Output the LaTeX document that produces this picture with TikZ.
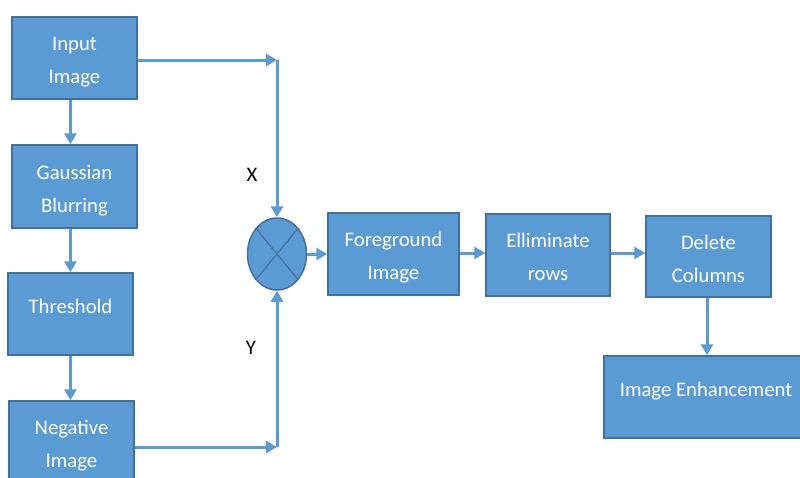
\documentclass[tikz,border=0pt]{standalone}
\usepackage{fontspec}
\setmainfont{Carlito}
\usetikzlibrary{arrows.meta,shapes.geometric}
\definecolor{boxfill}{HTML}{5B9BD5}
\definecolor{boxline}{HTML}{41719C}
\begin{document}
\begin{tikzpicture}[x=1pt,y=-1pt,
  every node/.style={font=\fontsize{20.7}{33}\selectfont},
  blk/.style={draw=boxline, line width=1.5pt, fill=boxfill, text=white,
    inner sep=0pt, align=center, text height=51.5pt, text depth=0pt},
  oneline/.style={text height=13.5pt, text depth=15.5pt},
  arr/.style={draw=boxfill, line width=3pt,
    -{Triangle[length=11pt,width=12pt]}},
  mark lbl/.style={text=black, inner sep=0pt}
]
\fill[white] (0,0) rectangle (800,477);
\useasboundingbox (0,0) rectangle (800,477);

% left column
\node[blk, minimum width=125pt, minimum height=82pt] (in)  at (74.5,58)  {Input\\Image};
\node[blk, minimum width=125pt, minimum height=83pt] (gb)  at (74.5,186.5) {Gaussian\\Blurring};
\node[blk, oneline, minimum width=125pt, minimum height=82pt] (thr) at (70.5,314) {Threshold};
\node[blk, minimum width=125pt, minimum height=82pt] (neg) at (71.5,442) {Negative\\Image};

% multiplier
\node[ellipse, draw=boxline, line width=1.5pt, fill=boxfill, inner sep=0pt,
      minimum width=59pt, minimum height=72pt] (mul) at (277,254) {};
\draw[boxline, line width=1.2pt] (mul.north west) -- (mul.south east)
                                 (mul.north east) -- (mul.south west);

% right chain
\node[blk, minimum width=131pt, minimum height=82pt] (fg) at (393.5,254) {Foreground\\Image};
\node[blk, minimum width=124pt, minimum height=82pt] (el) at (548,255) {Elliminate\\rows};
\node[blk, minimum width=125pt, minimum height=81pt] (dc) at (708.5,256.5) {Delete\\Columns};
\node[blk, oneline, minimum width=204pt, minimum height=82pt] (ie) at (706,397) {Image Enhancement};

% signal labels
\node[mark lbl] (lx) at (252,175) {X};
\node[mark lbl] (ly) at (251,348) {Y};

% corner points of the two inputs
\coordinate (cx) at (277,60);
\coordinate (cy) at (277,447);

% connectors
\draw[arr] (in.south -| thr.north) -- (gb.north -| thr.north);
\draw[arr] (gb.south -| thr.north) -- (thr.north);
\draw[arr] (thr.south) -- (neg.north -| thr.south);

\draw[arr] (in.east |- cx) -- (cx);
\draw[arr] (cx) -- (mul.north);
\draw[arr] (neg.east |- cy) -- (cy);
\draw[arr] (cy) -- (mul.south);

\draw[arr] (mul.east) -- (mul.east -| fg.west);
\draw[arr] ([yshift=1pt]fg.east) -- ([yshift=1pt]fg.east -| el.west);
\draw[arr] ([yshift=2pt]el.east) -- ([yshift=2pt]el.east -| dc.west);
\draw[arr] (dc.south -| 707,0) -- (ie.north -| 707,0);
\end{tikzpicture}
\end{document}
